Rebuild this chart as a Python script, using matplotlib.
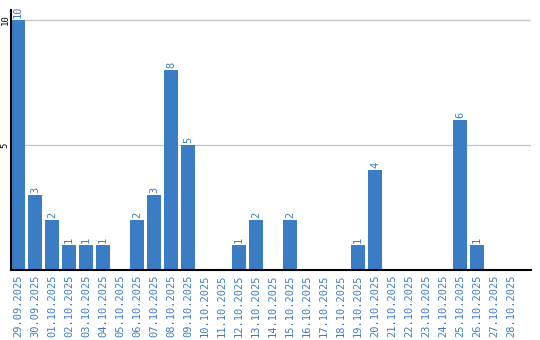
import matplotlib
matplotlib.use("Agg")
import matplotlib.pyplot as plt

dates = ["29.09.2025", "30.09.2025", "01.10.2025", "02.10.2025", "03.10.2025",
         "04.10.2025", "05.10.2025", "06.10.2025", "07.10.2025", "08.10.2025",
         "09.10.2025", "10.10.2025", "11.10.2025", "12.10.2025", "13.10.2025",
         "14.10.2025", "15.10.2025", "16.10.2025", "17.10.2025", "18.10.2025",
         "19.10.2025", "20.10.2025", "21.10.2025", "22.10.2025", "23.10.2025",
         "24.10.2025", "25.10.2025", "26.10.2025", "27.10.2025", "28.10.2025"]
counts = [10, 3, 2, 1, 1, 1, 0, 2, 3, 8, 5, 0, 0, 1, 2, 0, 2, 0, 0, 0,
          1, 4, 0, 0, 0, 0, 6, 1, 0, 0]
yticks = [5, 10]

blue = "#3b7dc4"
mono = "DejaVu Sans Mono"

fig = plt.figure(figsize=(5.4, 3.4), dpi=100)
ax = fig.add_axes([11 / 540, 1 - 270 / 340, 520 / 540, 260 / 340])

xs = list(range(len(dates)))
width = 14 / 17
ax.bar(xs, counts, width=width, align="edge", color=blue, zorder=2)

for x, v in zip(xs, counts):
    if v > 0:
        ax.text(x + width / 2, v + 0.08, str(v), rotation=90, ha="center", va="bottom",
                color=blue, fontsize=7.5, family=mono, clip_on=False)

ax.set_xlim(0, 520 / 17)
ax.set_ylim(0, 10.4)
ax.set_xticks([x + width / 2 for x in xs])
ax.set_xticklabels(dates, rotation=90, color=blue, fontsize=7.5, family=mono)
ax.set_yticks(yticks)
ax.set_yticklabels([str(t) for t in yticks], rotation=90, va="center", fontsize=6.5,
                   family=mono)
ax.tick_params(axis="x", length=0, pad=3)
ax.tick_params(axis="y", length=0, pad=1)
ax.grid(axis="y", color="#c8c8c8", linewidth=1, zorder=1)
ax.spines["top"].set_visible(False)
ax.spines["right"].set_visible(False)
ax.spines["left"].set_linewidth(1.5)
ax.spines["bottom"].set_linewidth(1.5)

fig.savefig("out.png", dpi=100)
